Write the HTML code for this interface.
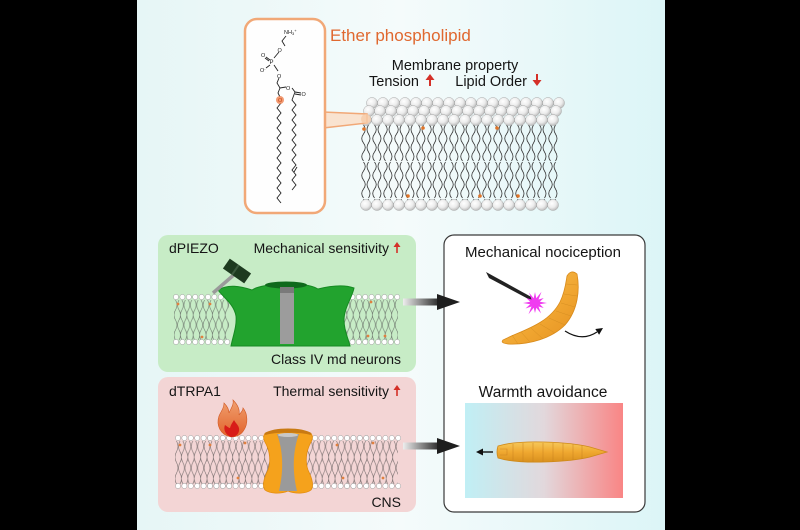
<!DOCTYPE html>
<html><head><meta charset="utf-8"><style>
html,body{margin:0;padding:0;background:#000;width:800px;height:530px;overflow:hidden}
svg{display:block}
text{font-family:"Liberation Sans",Arial,sans-serif}
</style></head><body>
<svg width="800" height="530" viewBox="0 0 800 530" xmlns="http://www.w3.org/2000/svg" xmlns:xlink="http://www.w3.org/1999/xlink">
<defs>
<linearGradient id="bg" x1="0" x2="1" y1="0" y2="0">
 <stop offset="0" stop-color="#e6f6f6"/><stop offset="0.5" stop-color="#f5fbfb"/><stop offset="1" stop-color="#dcf5f7"/>
</linearGradient>
<radialGradient id="head" cx="0.4" cy="0.35" r="0.7">
 <stop offset="0" stop-color="#ffffff"/><stop offset="0.55" stop-color="#ececec"/><stop offset="1" stop-color="#b5b5b5"/>
</radialGradient>
<pattern id="tails" x="360.5" y="125" width="11" height="37" patternUnits="userSpaceOnUse">
 <path d="M3,0 q3.5,4.5 0,9 t0,9 t0,9 t0,9" fill="none" stroke="#333" stroke-width="0.8"/>
 <path d="M8,0 q-3,4.5 0,9 t0,9 t0,9 t0,9" fill="none" stroke="#333" stroke-width="0.8"/>
</pattern>
<pattern id="stailsG" x="174" y="300" width="6.4" height="20" patternUnits="userSpaceOnUse">
 <path d="M1.5,0 q3,5 0,10 t0,10" fill="none" stroke="#707a70" stroke-width="0.6"/>
 <path d="M5,0 q-3,5 0,10 t0,10" fill="none" stroke="#707a70" stroke-width="0.6"/>
</pattern>
<pattern id="stailsP" x="175" y="441" width="6.4" height="21.5" patternUnits="userSpaceOnUse">
 <path d="M1.5,0 q3,5.4 0,10.75 t0,10.75" fill="none" stroke="#7a7070" stroke-width="0.6"/>
 <path d="M5,0 q-3,5.4 0,10.75 t0,10.75" fill="none" stroke="#7a7070" stroke-width="0.6"/>
</pattern>
<g id="bigrow">
 <circle cx="0" cy="0" r="5.5"/><circle cx="11" cy="0" r="5.5"/><circle cx="22" cy="0" r="5.5"/><circle cx="33" cy="0" r="5.5"/><circle cx="44" cy="0" r="5.5"/><circle cx="55" cy="0" r="5.5"/><circle cx="66" cy="0" r="5.5"/><circle cx="77" cy="0" r="5.5"/><circle cx="88" cy="0" r="5.5"/><circle cx="99" cy="0" r="5.5"/><circle cx="110" cy="0" r="5.5"/><circle cx="121" cy="0" r="5.5"/><circle cx="132" cy="0" r="5.5"/><circle cx="143" cy="0" r="5.5"/><circle cx="154" cy="0" r="5.5"/><circle cx="165" cy="0" r="5.5"/><circle cx="176" cy="0" r="5.5"/><circle cx="187" cy="0" r="5.5"/>
</g>
<g id="srow9" fill="#fff" stroke="#999" stroke-width="0.5">
 <circle cx="0" cy="0" r="2.6"/><circle cx="6.4" cy="0" r="2.6"/><circle cx="12.8" cy="0" r="2.6"/><circle cx="19.2" cy="0" r="2.6"/><circle cx="25.6" cy="0" r="2.6"/><circle cx="32" cy="0" r="2.6"/><circle cx="38.4" cy="0" r="2.6"/><circle cx="44.8" cy="0" r="2.6"/><circle cx="51.2" cy="0" r="2.6"/>
</g>
<g id="srow14">
 <use xlink:href="#srow9" href="#srow9" x="0" y="0"/>
 <use xlink:href="#srow9" href="#srow9" x="32" y="0"/>
</g>
<linearGradient id="arr" x1="0" x2="1" y1="0" y2="0">
 <stop offset="0" stop-color="#eeeeee"/><stop offset="1" stop-color="#2a2a2a"/>
</linearGradient>
<linearGradient id="heat" x1="0" x2="1" y1="0" y2="0">
 <stop offset="0" stop-color="#c0eff5"/><stop offset="0.5" stop-color="#e2d8dc"/><stop offset="1" stop-color="#f98585"/>
</linearGradient>
<linearGradient id="larva" x1="0" x2="0" y1="0" y2="1">
 <stop offset="0" stop-color="#f6c85a"/><stop offset="0.5" stop-color="#f0a830"/><stop offset="1" stop-color="#d8901e"/>
</linearGradient>
<linearGradient id="larva2" x1="0" x2="1" y1="0" y2="1">
 <stop offset="0" stop-color="#f6c45a"/><stop offset="0.6" stop-color="#f0a530"/><stop offset="1" stop-color="#e49020"/>
</linearGradient>
<linearGradient id="flame" x1="0" x2="0" y1="0" y2="1">
 <stop offset="0" stop-color="#f0a070"/><stop offset="1" stop-color="#e2622a"/>
</linearGradient>
</defs>

<!-- background -->
<rect x="137" y="0" width="528" height="530" fill="url(#bg)"/>

<!-- ===== TOP: membrane ===== -->
<rect x="361" y="125" width="198" height="75" fill="url(#tails)"/>
<g fill="url(#head)" stroke="#a8a8a8" stroke-width="0.5">
 <use xlink:href="#bigrow" href="#bigrow" x="372" y="103"/>
 <use xlink:href="#bigrow" href="#bigrow" x="369" y="111"/>
 <use xlink:href="#bigrow" href="#bigrow" x="366" y="120"/>
 <use xlink:href="#bigrow" href="#bigrow" x="366" y="205"/>
</g>
<g fill="#e07428">
 <circle cx="364" cy="129" r="1.8"/><circle cx="423" cy="128" r="1.8"/><circle cx="497" cy="128" r="1.8"/>
 <circle cx="408" cy="196" r="1.8"/><circle cx="480" cy="196" r="1.8"/><circle cx="518" cy="196" r="1.8"/>
</g>

<!-- callout box -->
<polygon points="323,112 367,114 367,123 323,128" fill="#f9e3d0" stroke="#f1a877" stroke-width="1.5"/>
<circle cx="366" cy="119" r="5" fill="#f6caa8" opacity="0.8"/>
<rect x="245" y="19" width="80" height="194" rx="12" fill="#fefefe" stroke="#f1a877" stroke-width="2.5"/>

<!-- chemical structure -->
<g stroke="#222" stroke-width="0.9" fill="none">
 <polyline points="286,36 282,41 285,46"/>
 <line x1="279" y1="52" x2="274" y2="58"/>
 <line x1="270" y1="60" x2="266" y2="57"/>
 <line x1="269" y1="61" x2="265" y2="58"/>
 <line x1="270" y1="65" x2="266" y2="68"/>
 <line x1="274" y1="65" x2="278" y2="71"/>
 <polyline points="279,78 277,83 280,88 286,87"/>
 <polyline points="280,88 278,93 280,97"/>
 <polyline points="292,88 295,92"/>
 <line x1="295" y1="92" x2="301" y2="93"/>
 <line x1="295" y1="94" x2="301" y2="95"/>
 <polyline points="281,103 277,108 281,113 277,118 281,123 277,128 281,133 277,138 281,143 277,148 281,153 277,158 281,163 277,168 281,173 277,178 281,183 277,188 281,193 277,198 281,203"/>
 <polyline points="295,92 292,100 296,105 292,110 296,115 292,120 296,125 292,130 296,135 292,140 296,145 292,150 296,155 292,160 296,165 292,170 296,175 292,180 296,185 292,190"/>
 <line x1="297" y1="167" x2="294" y2="172"/>
</g>
<circle cx="280" cy="100" r="4" fill="#f08a5a" opacity="0.85"/>
<g font-size="5.5" fill="#222" font-family="Liberation Sans, sans-serif">
 <text x="284" y="34">NH<tspan font-size="4" dy="1">3</tspan><tspan font-size="4" dy="-3">+</tspan></text>
 <text x="277.5" y="52">O</text>
 <text x="269.5" y="64" font-size="6">P</text>
 <text x="261" y="57">O</text>
 <text x="260" y="72">O<tspan font-size="4" dy="-2">-</tspan></text>
 <text x="277" y="78">O</text>
 <text x="286" y="90">O</text>
 <text x="301.5" y="96">O</text>
 <text x="278" y="102" fill="#c04010">O</text>
</g>

<text x="330" y="41" font-size="17" fill="#e0682f">Ether phospholipid</text>
<text x="455" y="70" font-size="14.5" fill="#151515" text-anchor="middle">Membrane property</text>
<text x="369" y="86" font-size="14.5" fill="#151515">Tension</text>
<text x="527" y="86" font-size="14.5" fill="#151515" text-anchor="end">Lipid Order</text>
<g fill="#d43028" stroke="#d43028">
 <line x1="430" y1="78" x2="430" y2="86" stroke-width="2"/>
 <polygon points="425.5,80 430,74 434.5,80" stroke="none"/>
 <line x1="537" y1="74" x2="537" y2="82" stroke-width="2"/>
 <polygon points="532.5,80 537,86 541.5,80" stroke="none"/>
</g>

<!-- ===== GREEN BOX ===== -->
<rect x="158" y="235" width="258" height="137" rx="10" fill="#c7ecc6"/>
<rect x="174" y="300" width="55" height="40" fill="url(#stailsG)"/>
<rect x="343" y="300" width="55" height="40" fill="url(#stailsG)"/>
<use xlink:href="#srow9" href="#srow9" x="176" y="297"/>
<use xlink:href="#srow9" href="#srow9" x="176" y="342"/>
<use xlink:href="#srow9" href="#srow9" x="346" y="297"/>
<use xlink:href="#srow9" href="#srow9" x="346" y="342"/>
<g fill="#e08040">
 <circle cx="178" cy="304" r="1.4"/><circle cx="210" cy="304" r="1.4"/><circle cx="202" cy="337" r="1.4"/>
 <circle cx="371" cy="302" r="1.4"/><circle cx="368" cy="336" r="1.4"/><circle cx="385" cy="336" r="1.4"/>
</g>
<!-- piezo -->
<path d="M218,290 C228,284 240,286 252,290 C262,283 305,281 318,289 C330,286 343,284 354,288 C352,298 344,308 344,320 C344,332 349,340 350,346 L231,346 C233,336 237,326 236,316 C234,304 223,297 218,290 Z" fill="#22a32e" stroke="#168a22" stroke-width="1"/>
<ellipse cx="286" cy="285" rx="21" ry="3.5" fill="#0f6a1c"/>
<rect x="280" y="287" width="14" height="57" fill="#9c9c9c"/>
<rect x="280" y="287" width="14" height="6" fill="#7a7a7a"/>
<!-- hammer -->
<line x1="213" y1="293" x2="236" y2="273" stroke="#9a9a9a" stroke-width="3.5"/>
<g transform="translate(237,271) rotate(35)">
 <rect x="-13" y="-6" width="26" height="12" fill="#1d3a1f"/>
 <rect x="-3" y="-6" width="2" height="12" fill="#3c5a3e"/>
</g>
<text x="169" y="253" font-size="14" fill="#151515">dPIEZO</text>
<text x="389" y="253" font-size="14" fill="#151515" text-anchor="end">Mechanical sensitivity</text>
<g fill="#d43028" stroke="#d43028">
 <line x1="397" y1="245" x2="397" y2="253" stroke-width="1.6"/>
 <polygon points="393.5,247 397,242 400.5,247" stroke="none"/>
</g>
<text x="401" y="364" font-size="14" fill="#151515" text-anchor="end">Class IV md neurons</text>

<!-- ===== PINK BOX ===== -->
<rect x="158" y="377" width="258" height="135" rx="10" fill="#f3d5d5"/>
<rect x="175" y="441" width="223" height="43" fill="url(#stailsP)"/>
<use xlink:href="#srow14" href="#srow14" x="178" y="438"/>
<use xlink:href="#srow14" href="#srow14" x="178" y="486"/>
<use xlink:href="#srow14" href="#srow14" x="315" y="438"/>
<use xlink:href="#srow14" href="#srow14" x="315" y="486"/>
<g fill="#e08040">
 <circle cx="180" cy="445" r="1.4"/><circle cx="210" cy="445" r="1.4"/><circle cx="245" cy="443" r="1.4"/><circle cx="238" cy="478" r="1.4"/>
 <circle cx="337" cy="445" r="1.4"/><circle cx="373" cy="443" r="1.4"/><circle cx="343" cy="478" r="1.4"/><circle cx="383" cy="478" r="1.4"/>
</g>
<!-- TRPA1 channel -->
<path d="M266,433 C272,430 282,431 288,433 L288,491 C281,494 270,494 265,490 C262,486 264,478 268,470 C271,462 270,452 266,444 C263,439 263,435 266,433 Z" fill="#f5a21c" stroke="#e28c10" stroke-width="0.8"/>
<path d="M310,433 C304,430 294,431 288,433 L288,491 C295,494 306,494 311,490 C314,486 312,478 308,470 C305,462 306,452 310,444 C313,439 313,435 310,433 Z" fill="#f5a21c" stroke="#e28c10" stroke-width="0.8"/>
<path d="M277,434 L299,434 C293,450 292,470 297,491 L279,491 C284,470 283,450 277,434 Z" fill="#9a9a9a"/>
<path d="M265,434 C275,428 301,428 311,434 C301,431 275,431 265,434 Z" fill="#c97a12" stroke="#c97a12" stroke-width="2"/>
<ellipse cx="288" cy="435" rx="10" ry="2" fill="#c8c8c8"/>
<!-- flame -->
<path d="M231,437 C220,435 216,425 219,416 C221,411 224,409 224,403 C228,407 229,410 229,413 C231,408 234,405 233,400 C238,405 240,410 239,415 C241,412 243,411 243,408 C248,414 248,424 244,430 C241,435 236,437 231,437 Z" fill="url(#flame)" stroke="#d25a24" stroke-width="0.6"/>
<path d="M231,437 C226,435 223,430 225,425 C228,427 229,428 230,428 C231,424 233,422 234,420 C236,424 240,426 239,431 C238,435 235,437 231,437 Z" fill="#d81c18"/>
<text x="169" y="396" font-size="14" fill="#151515">dTRPA1</text>
<text x="389" y="396" font-size="14" fill="#151515" text-anchor="end">Thermal sensitivity</text>
<g fill="#d43028" stroke="#d43028">
 <line x1="397" y1="388" x2="397" y2="396" stroke-width="1.6"/>
 <polygon points="393.5,390 397,385 400.5,390" stroke="none"/>
</g>
<text x="401" y="507" font-size="14" fill="#151515" text-anchor="end">CNS</text>

<!-- ===== RIGHT BOX ===== -->
<rect x="444" y="235" width="201" height="277" rx="10" fill="#ffffff" stroke="#3a3a3a" stroke-width="1.2"/>
<text x="543" y="257" font-size="15" fill="#151515" text-anchor="middle">Mechanical nociception</text>
<text x="543" y="397" font-size="15.5" fill="#151515" text-anchor="middle">Warmth avoidance</text>

<!-- needle + star -->
<polygon points="486,272 489,278 534,302 535,299" fill="#222"/>
<polygon points="547,303 539.8,304.3 543.7,308 538.5,306.5 541,313.4 536.3,307.8 535,313 533.7,307.8 528.5,314.3 531.5,306.5 525.5,308.5 530.2,304.3 523,303 530.2,301.7 526.3,298 531.5,299.5 529,292.6 533.7,298.2 535,292 536.3,298.2 541.5,291.7 538.5,299.5 543.7,298 539.8,301.7" fill="#f03cf0"/>
<!-- curved larva -->
<path d="M503,340 C520,331 548,325 560,302 C565,292 566,282 567,276 Q571,269 577,274 C580,290 578,310 565,325 C552,338 530,345 508,344 Q500,343 503,340 Z" fill="url(#larva2)" stroke="#d88a1a" stroke-width="0.8"/>
<g stroke="#cf8a20" stroke-width="0.5" opacity="0.8">
 <line x1="566" y1="284" x2="577" y2="285"/><line x1="564" y1="294" x2="577" y2="296"/><line x1="561" y1="303" x2="575" y2="307"/>
 <line x1="556" y1="311" x2="571" y2="316"/><line x1="549" y1="318" x2="565" y2="325"/><line x1="540" y1="324" x2="555" y2="333"/>
 <line x1="531" y1="328" x2="543" y2="339"/><line x1="521" y1="332" x2="530" y2="342"/><line x1="512" y1="335" x2="518" y2="344"/>
</g>
<path d="M565,331 Q582,342 597,332" fill="none" stroke="#111" stroke-width="1.2"/>
<polygon points="603,328 599.1,334.8 595.3,329" fill="#111"/>

<!-- heat gradient + larva -->
<rect x="465" y="403" width="158" height="95" fill="url(#heat)"/>
<path d="M498,446 Q496,452 498,458 C520,465 570,462 590,457 L607,452 L590,447 C570,442 520,439 498,446 Z" fill="url(#larva)" stroke="#cf8a1a" stroke-width="0.8"/>
<g stroke="#c88020" stroke-width="0.6" opacity="0.8">
 <line x1="513" y1="444" x2="513" y2="461"/><line x1="523" y1="443" x2="523" y2="462"/><line x1="533" y1="443" x2="533" y2="462"/>
 <line x1="543" y1="443" x2="543" y2="462"/><line x1="553" y1="443" x2="553" y2="462"/><line x1="563" y1="443" x2="563" y2="461"/>
 <line x1="573" y1="444" x2="573" y2="460"/><line x1="582" y1="445" x2="582" y2="459"/>
 <polyline points="500,449 507,449 507,455 500,455" fill="none"/>
</g>
<line x1="481" y1="452" x2="493" y2="452" stroke="#111" stroke-width="1.4"/>
<polygon points="476,452 483,448.5 483,455.5" fill="#111"/>

<!-- connecting arrows -->
<rect x="403" y="298.5" width="36" height="7" fill="url(#arr)"/>
<polygon points="437,294 460,302 437,310" fill="#1e1e1e"/>
<rect x="403" y="442.5" width="36" height="7" fill="url(#arr)"/>
<polygon points="437,438 460,446 437,454" fill="#1e1e1e"/>
</svg>
</body></html>
